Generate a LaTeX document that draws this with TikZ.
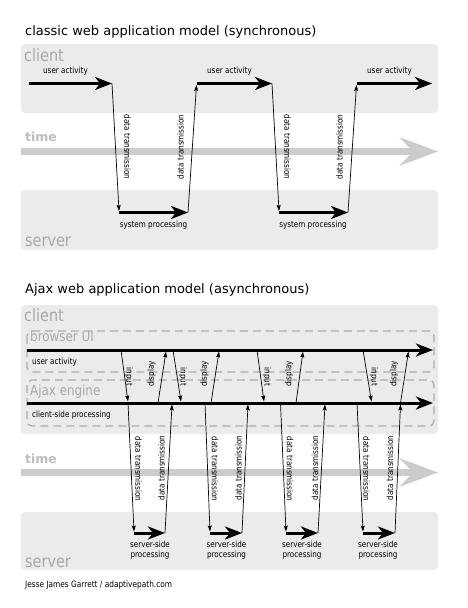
\documentclass[tikz,border=0pt]{standalone}
\usepackage{fontspec}
\setmainfont{DejaVu Sans}
\newfontfamily\cnd[FakeStretch=0.85]{DejaVu Sans}
\usetikzlibrary{arrows.meta}
\definecolor{boxfill}{HTML}{EBEBEB}
\definecolor{lblgray}{HTML}{A8A8A8}
\definecolor{timegray}{HTML}{BDBDBD}
\definecolor{arrowgray}{HTML}{CCCCCC}
\definecolor{dashgray}{HTML}{ADADAD}
\begin{document}
\begin{tikzpicture}[x=1pt,y=-1pt,
  region/.style={fill=boxfill, rounded corners=4pt},
  dashbox/.style={draw=dashgray, line width=1.3pt, dash pattern=on 8pt off 5pt, rounded corners=5pt},
  bigarrow/.style={line width=3pt, -{Stealth[length=17pt,width=13pt,inset=5pt]}},
  thinarrow/.style={line width=0.7pt, -{Stealth[length=6pt,width=4pt,inset=1pt]}},
  timearrow/.style={draw=arrowgray, line width=6.5pt, -{Stealth[length=38pt,width=28pt,inset=13pt]}},
  titletext/.style={anchor=base west, inner sep=0pt, font=\fontsize{13}{15}\selectfont},
  biglabel/.style={anchor=base west, inner sep=0pt, text=lblgray, font=\cnd\fontsize{17}{19}\selectfont},
  midlabel/.style={anchor=base west, inner sep=0pt, text=lblgray, font=\cnd\fontsize{14}{16}\selectfont},
  timelabel/.style={anchor=base west, inner sep=0pt, text=timegray, font=\bfseries\fontsize{12.5}{14}\selectfont},
  smalltext/.style={inner sep=0pt, font=\cnd\fontsize{8.5}{10}\selectfont},
  downlabel/.style={smalltext, rotate=-90, anchor=center},
  uplabel/.style={smalltext, rotate=90, anchor=center},
]
\useasboundingbox[fill=white] (0,0) rectangle (468,608);

% ================= classic model =================
\node[titletext] (t1) at (25,35) {classic web application model (synchronous)};
\fill[region] (21,44) rectangle (438,113);
\fill[region] (21,190) rectangle (438,250);
\node[biglabel] (c1) at (24,61.5) {client};
\node[timelabel] (tm1) at (25,141) {time};
\node[biglabel] (sv1lbl) at (25,246.5) {server};
\coordinate (ta1s) at (21,151.5);
\coordinate (ta1e) at (438,151.5);
\draw[timearrow] (ta1s) -- (ta1e);

\coordinate (a1s) at (29,83.5);   \coordinate (a1e) at (112,83.5);
\coordinate (d1e) at (119,211);
\coordinate (s1s) at (119,212.5); \coordinate (s1e) at (188,212.5);
\coordinate (u1e) at (196.5,85);
\coordinate (a2s) at (196.5,83.5); \coordinate (a2e) at (272,83.5);
\coordinate (d2e) at (279,211);
\coordinate (s2s) at (279,212.5); \coordinate (s2e) at (348,212.5);
\coordinate (u2e) at (356.5,85);
\coordinate (a3s) at (356.5,83.5); \coordinate (a3e) at (432,83.5);

\draw[bigarrow] (a1s) -- (a1e);
\draw[thinarrow] (a1e) -- (d1e);
\draw[bigarrow] (s1s) -- (s1e);
\draw[thinarrow] (s1e) -- (u1e);
\draw[bigarrow] (a2s) -- (a2e);
\draw[thinarrow] (a2e) -- (d2e);
\draw[bigarrow] (s2s) -- (s2e);
\draw[thinarrow] (s2e) -- (u2e);
\draw[bigarrow] (a3s) -- (a3e);

\node[smalltext, anchor=base] (ua1) at (65.5,73) {user activity};
\node[smalltext, anchor=base] (ua2) at (229.5,73) {user activity};
\node[smalltext, anchor=base] (ua3) at (389.5,73) {user activity};
\node[smalltext, anchor=base] (sp1) at (153.5,227) {system processing};
\node[smalltext, anchor=base] (sp2) at (313,227) {system processing};
\node[downlabel] (dt1) at (127.5,147) {data transmission};
\node[uplabel]   (dt2) at (180.5,147) {data transmission};
\node[downlabel] (dt3) at (287.5,147) {data transmission};
\node[uplabel]   (dt4) at (339.5,147) {data transmission};

% ================= Ajax model =================
\node[titletext] (t2) at (25,293) {Ajax web application model (asynchronous)};
\fill[region] (21,305) rectangle (438,434);
\fill[region] (21,512) rectangle (438,570);
\node[biglabel] (c2) at (24,321.5) {client};
\draw[dashbox] (27,331) rectangle (434,372);
\draw[dashbox] (27,380) rectangle (434,426);
\node[midlabel] (bui) at (30,341) {browser UI};
\node[midlabel] (aje) at (30,395) {Ajax engine};
\node[timelabel] (tm2) at (25,463) {time};
\node[biglabel] (sv2lbl) at (25,567) {server};
\coordinate (ta2s) at (21,472.5);
\coordinate (ta2e) at (438,472.5);
\draw[timearrow] (ta2s) -- (ta2e);

\coordinate (uis) at (27,350);  \coordinate (uie) at (433,350);
\coordinate (ens) at (27,403);  \coordinate (ene) at (433,403);
\draw[bigarrow] (uis) -- (uie);
\draw[bigarrow] (ens) -- (ene);
\node[smalltext, anchor=base west] (uab) at (32,364) {user activity};
\node[smalltext, anchor=base west] (csp) at (32,417.5) {client-side processing};

% input arrows
\foreach \n/\xa/\xb in {1/121/128, 2/173/181, 3/257/264, 4/363/371.5}{
  \coordinate (i\n s) at (\xa,350);
  \coordinate (i\n e) at (\xb,401.5);
  \draw[thinarrow] (i\n s) -- (i\n e);
}
% display arrows
\foreach \n/\xa/\xb in {1/158/166, 2/211/219, 3/296/303, 4/400.5/408.5}{
  \coordinate (p\n s) at (\xa,403);
  \coordinate (p\n e) at (\xb,351.5);
  \draw[thinarrow] (p\n s) -- (p\n e);
}
% data down, server processing, data up
\foreach \n/\xa/\xb/\xc/\xd in {1/128/134/165/172, 2/205/210/242/248, 3/280.5/286/318/325, 4/357/363/395/400.5}{
  \coordinate (dd\n s) at (\xa,403);
  \coordinate (dd\n e) at (\xb,531.5);
  \coordinate (sv\n s) at (\xb,533);
  \coordinate (sv\n e) at (\xc,533);
  \coordinate (du\n e) at (\xd,404.5);
  \draw[thinarrow] (dd\n s) -- (dd\n e);
  \draw[bigarrow] (sv\n s) -- (sv\n e);
  \draw[thinarrow] (sv\n e) -- (du\n e);
}

\foreach \n/\x in {1/129, 2/183, 3/267, 4/374}{
  \node[downlabel] (in\n) at (\x,377) {input};
}
\foreach \n/\x in {1/151.5, 2/204.5, 3/289, 4/394}{
  \node[uplabel] (dp\n) at (\x,374) {display};
}
\foreach \n/\x/\y in {1/138.5/161.5, 2/215/238.5, 3/290/315, 4/366.5/390}{
  \node[downlabel] (bdd\n) at (\x,469) {data transmission};
  \node[uplabel] (bdu\n) at (\y,468) {data transmission};
}
\foreach \n/\x in {1/150, 2/226.5, 3/302, 4/378}{
  \node[smalltext, anchor=base] (ssa\n) at (\x,547) {server-side};
  \node[smalltext, anchor=base] (ssb\n) at (\x,557) {processing};
}

\node[smalltext, anchor=base west, font=\cnd\fontsize{8.7}{10}\selectfont] (foot) at (25,587) {Jesse James Garrett / adaptivepath.com};
\end{tikzpicture}
\end{document}
